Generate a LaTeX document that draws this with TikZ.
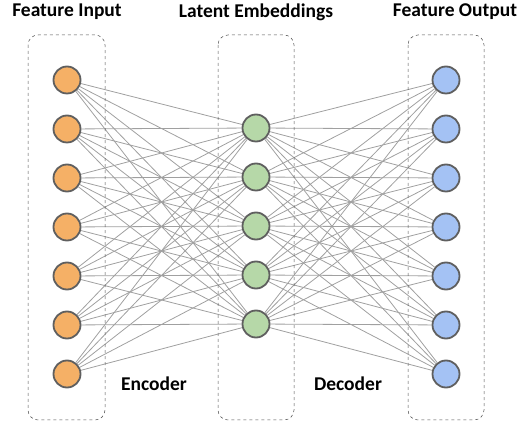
\documentclass[tikz,border=0pt]{standalone}
\usepackage{fontspec}
\setmainfont{Carlito}
\usetikzlibrary{backgrounds}
\definecolor{inC}{HTML}{F5B066}
\definecolor{latC}{HTML}{B6D8A8}
\definecolor{outC}{HTML}{A4C2F4}
\definecolor{rimC}{HTML}{5F5F5F}
\definecolor{edgeC}{HTML}{A0A0A0}
\tikzset{
  x=1pt, y=1pt,
  neuron/.style={circle, draw=rimC, line width=1.8pt, minimum size=27pt, inner sep=0pt},
  conn/.style={draw=edgeC, line width=0.8pt},
  groupbox/.style={draw=black!70, dashed, line width=0.5pt, rounded corners=10pt},
  title/.style={font=\bfseries\fontsize{19.5}{22}\selectfont, anchor=center},
  label/.style={font=\bfseries\fontsize{19.5}{22}\selectfont, anchor=center}
}
\begin{document}
\begin{tikzpicture}
\useasboundingbox (0,0) rectangle (517,-427);
% boxes
\draw[groupbox] (28,-35) rectangle (105,-420);
\draw[groupbox] (218,-35) rectangle (294,-420);
\draw[groupbox] (408,-35) rectangle (484,-420);
% nodes
\foreach \i in {1,...,7} {
  \node[neuron, fill=inC] (in\i) at (67,{-80-49*(\i-1)}) {};
  \node[neuron, fill=outC] (out\i) at (446,{-80-49*(\i-1)}) {};
}
\foreach \j in {1,...,5} {
  \node[neuron, fill=latC] (lat\j) at (256,{-128-49*(\j-1)}) {};
}
\begin{pgfonlayer}{background}
\foreach \i in {1,...,7} {
  \foreach \j in {1,...,5} {
    \draw[conn] (in\i) -- (lat\j);
    \draw[conn] (lat\j) -- (out\i);
  }
}
\end{pgfonlayer}
% titles
\node[title] (t1) at (67,-12) {Feature Input};
\node[title] (t2) at (256,-12) {Latent Embeddings};
\node[title] (t3) at (455,-12) {Feature Output};
\node[label] (enc) at (154,-384) {Encoder};
\node[label] (dec) at (348,-384) {Decoder};
\end{tikzpicture}
\end{document}
